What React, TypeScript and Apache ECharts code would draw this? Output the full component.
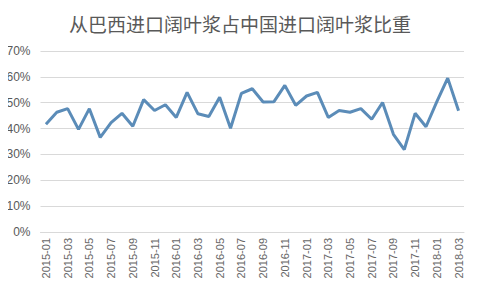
import React, { useEffect, useRef } from "react";
import * as echarts from "echarts";

const categories: string[] = [
  "2015-01", "2015-02", "2015-03", "2015-04", "2015-05", "2015-06", "2015-07", "2015-08", "2015-09", "2015-10", "2015-11", "2015-12",
  "2016-01", "2016-02", "2016-03", "2016-04", "2016-05", "2016-06", "2016-07", "2016-08", "2016-09", "2016-10", "2016-11", "2016-12",
  "2017-01", "2017-02", "2017-03", "2017-04", "2017-05", "2017-06", "2017-07", "2017-08", "2017-09", "2017-10", "2017-11", "2017-12",
  "2018-01", "2018-02", "2018-03",
];

const shareValues: number[] = [
  41.7, 46.3, 47.7, 39.7, 47.7, 36.6, 42.3, 45.9, 40.9, 51.2, 47.0, 49.2,
  44.3, 54.0, 45.7, 44.7, 52.1, 40.1, 53.6, 55.4, 50.3, 50.4, 56.7, 49.0,
  52.6, 54.0, 44.3, 47.0, 46.3, 47.7, 43.6, 50.1, 37.8, 31.9, 45.9, 40.7,
  50.4, 59.5, 46.9,
];

const titleText = "从巴西进口阔叶浆占中国进口阔叶浆比重";

export default function App() {
  const ref = useRef<HTMLDivElement>(null);
  useEffect(() => {
    if (!ref.current) return;
    const chart = echarts.init(ref.current, null, { renderer: "svg" });
    chart.setOption({
      animation: false,
      backgroundColor: "#ffffff",
      title: {
        text: titleText,
        left: "center",
        top: 9,
        textStyle: {
          fontFamily: "Noto Sans CJK SC",
          fontSize: 19,
          fontWeight: "normal",
          color: "#595959",
        },
      },
      graphic: [
        {
          type: "rect",
          shape: { x: 1.5, y: 0.5, width: 471, height: 285 },
          style: { fill: "none", stroke: "#e3e3e3", lineWidth: 1 },
          silent: true,
        },
      ],
      grid: { left: 40.5, right: 16, top: 51, bottom: 56 },
      xAxis: {
        type: "category",
        data: categories,
        boundaryGap: true,
        axisLine: { lineStyle: { color: "#d9d9d9" } },
        axisTick: { interval: 1, length: 5, lineStyle: { color: "#d9d9d9" } },
        axisLabel: {
          interval: 1,
          rotate: 90,
          margin: 6,
          fontSize: 11,
          color: "#666666",
          fontFamily: "Liberation Sans",
        },
      },
      yAxis: {
        type: "value",
        min: 0,
        max: 70,
        interval: 10,
        axisLine: { show: false },
        axisTick: { show: false },
        splitLine: { lineStyle: { color: "#d9d9d9" } },
        axisLabel: {
          formatter: "{value}%",
          fontSize: 12,
          color: "#595959",
          margin: 10,
          fontFamily: "Liberation Sans",
        },
      },
      series: [
        {
          type: "line",
          data: shareValues,
          symbol: "none",
          lineStyle: { color: "#5b8cb8", width: 3 },
        },
      ],
    });
    return () => chart.dispose();
  }, []);
  return <div ref={ref} style={{ width: 480, height: 288, margin: -8 }} />;
}
